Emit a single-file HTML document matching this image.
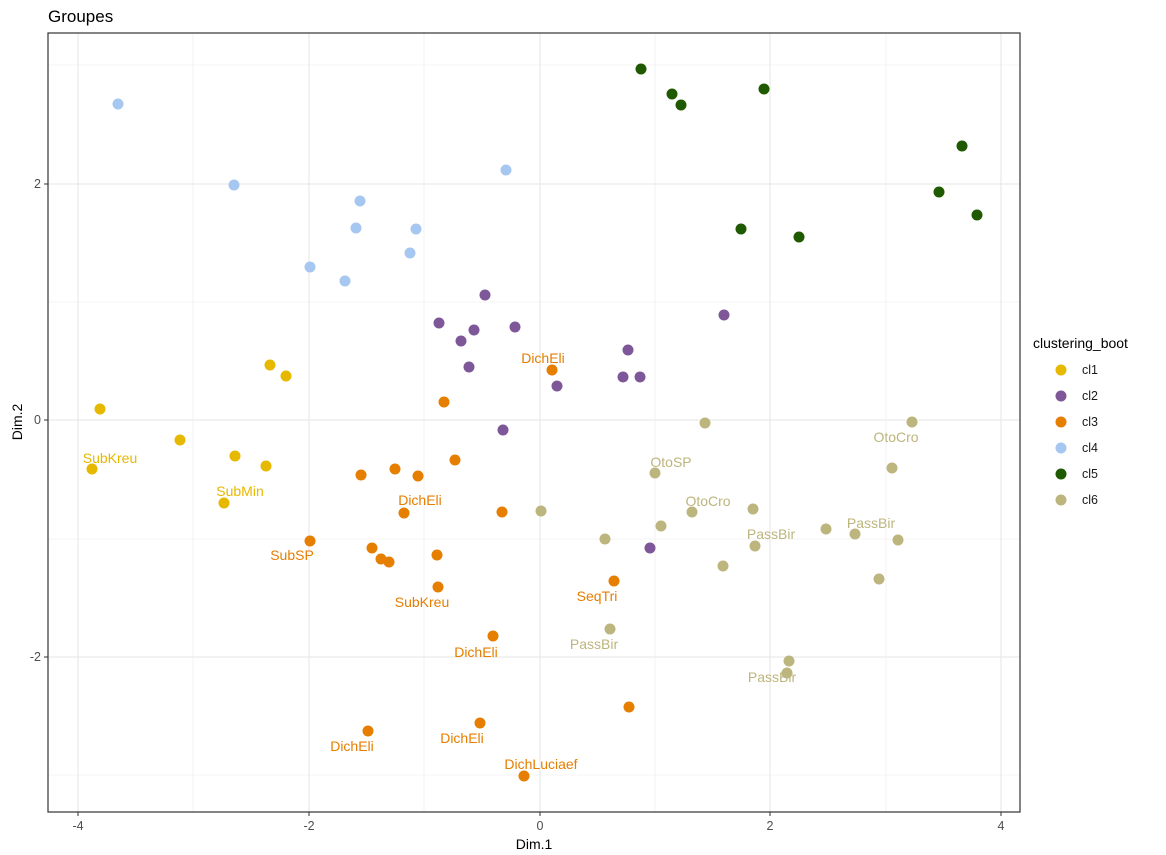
<!DOCTYPE html>
<html><head><meta charset="utf-8"><style>body{margin:0;background:#fff}svg{display:block;font-family:"Liberation Sans",Arial,sans-serif}</style></head><body>
<svg width="1166" height="855" viewBox="0 0 1166 855">
<rect width="1166" height="855" fill="#fff"/>
<g stroke="#f0f0f0" stroke-width="0.8">
<line x1="193" y1="33" x2="193" y2="812"/><line x1="424" y1="33" x2="424" y2="812"/><line x1="655" y1="33" x2="655" y2="812"/><line x1="886" y1="33" x2="886" y2="812"/>
<line x1="48" y1="65" x2="1020" y2="65"/><line x1="48" y1="302" x2="1020" y2="302"/><line x1="48" y1="539" x2="1020" y2="539"/><line x1="48" y1="775" x2="1020" y2="775"/>
</g>
<g stroke="#e6e6e6" stroke-width="1.1">
<line x1="78" y1="33" x2="78" y2="812"/><line x1="309" y1="33" x2="309" y2="812"/><line x1="540" y1="33" x2="540" y2="812"/><line x1="770" y1="33" x2="770" y2="812"/><line x1="1001" y1="33" x2="1001" y2="812"/>
<line x1="48" y1="184" x2="1020" y2="184"/><line x1="48" y1="420" x2="1020" y2="420"/><line x1="48" y1="657" x2="1020" y2="657"/>
</g>
<rect x="48" y="33" width="972" height="779" fill="none" stroke="#333" stroke-width="1.2"/>
<g stroke="#333"><line x1="78" y1="812" x2="78" y2="816"/><line x1="309" y1="812" x2="309" y2="816"/><line x1="540" y1="812" x2="540" y2="816"/><line x1="770" y1="812" x2="770" y2="816"/><line x1="1001" y1="812" x2="1001" y2="816"/>
<line x1="44" y1="184" x2="48" y2="184"/><line x1="44" y1="420" x2="48" y2="420"/><line x1="44" y1="657" x2="48" y2="657"/></g>
<g font-size="12.5" fill="#4d4d4d" text-anchor="middle"><text x="78" y="830">-4</text><text x="309" y="830">-2</text><text x="540" y="830">0</text><text x="770" y="830">2</text><text x="1001" y="830">4</text></g>
<g font-size="12.5" fill="#4d4d4d" text-anchor="end"><text x="41" y="188">2</text><text x="41" y="424">0</text><text x="41" y="661">-2</text></g>
<text x="534" y="849" font-size="14" text-anchor="middle">Dim.1</text>
<text transform="translate(22,422) rotate(-90)" font-size="14" text-anchor="middle">Dim.2</text>
<text x="48" y="22" font-size="17">Groupes</text>
<g fill="#A6C8F0"><circle cx="118" cy="104" r="5.5"/><circle cx="234" cy="185" r="5.5"/><circle cx="506" cy="170" r="5.5"/><circle cx="360" cy="201" r="5.5"/><circle cx="356" cy="228" r="5.5"/><circle cx="416" cy="229" r="5.5"/><circle cx="310" cy="267" r="5.5"/><circle cx="410" cy="253" r="5.5"/><circle cx="345" cy="281" r="5.5"/></g>
<g fill="#1F5A00"><circle cx="641" cy="69" r="5.5"/><circle cx="672" cy="94" r="5.5"/><circle cx="681" cy="105" r="5.5"/><circle cx="764" cy="89" r="5.5"/><circle cx="962" cy="146" r="5.5"/><circle cx="939" cy="192" r="5.5"/><circle cx="977" cy="215" r="5.5"/><circle cx="741" cy="229" r="5.5"/><circle cx="799" cy="237" r="5.5"/></g>
<g fill="#7E5799"><circle cx="485" cy="295" r="5.5"/><circle cx="439" cy="323" r="5.5"/><circle cx="474" cy="330" r="5.5"/><circle cx="515" cy="327" r="5.5"/><circle cx="461" cy="341" r="5.5"/><circle cx="724" cy="315" r="5.5"/><circle cx="628" cy="350" r="5.5"/><circle cx="623" cy="377" r="5.5"/><circle cx="640" cy="377" r="5.5"/><circle cx="557" cy="386" r="5.5"/><circle cx="469" cy="367" r="5.5"/><circle cx="503" cy="430" r="5.5"/><circle cx="650" cy="548" r="5.5"/></g>
<g fill="#E7B800"><circle cx="270" cy="365" r="5.5"/><circle cx="286" cy="376" r="5.5"/><circle cx="100" cy="409" r="5.5"/><circle cx="180" cy="440" r="5.5"/><circle cx="235" cy="456" r="5.5"/><circle cx="266" cy="466" r="5.5"/><circle cx="92" cy="469" r="5.5"/><circle cx="224" cy="503" r="5.5"/></g>
<g fill="#E67E00"><circle cx="552" cy="370" r="5.5"/><circle cx="444" cy="402" r="5.5"/><circle cx="455" cy="460" r="5.5"/><circle cx="361" cy="475" r="5.5"/><circle cx="395" cy="469" r="5.5"/><circle cx="418" cy="476" r="5.5"/><circle cx="404" cy="513" r="5.5"/><circle cx="502" cy="512" r="5.5"/><circle cx="310" cy="541" r="5.5"/><circle cx="372" cy="548" r="5.5"/><circle cx="381" cy="559" r="5.5"/><circle cx="389" cy="562" r="5.5"/><circle cx="437" cy="555" r="5.5"/><circle cx="614" cy="581" r="5.5"/><circle cx="438" cy="587" r="5.5"/><circle cx="493" cy="636" r="5.5"/><circle cx="629" cy="707" r="5.5"/><circle cx="368" cy="731" r="5.5"/><circle cx="480" cy="723" r="5.5"/><circle cx="524" cy="776" r="5.5"/></g>
<g fill="#BDB57E"><circle cx="705" cy="423" r="5.5"/><circle cx="912" cy="422" r="5.5"/><circle cx="655" cy="473" r="5.5"/><circle cx="892" cy="468" r="5.5"/><circle cx="541" cy="511" r="5.5"/><circle cx="661" cy="526" r="5.5"/><circle cx="692" cy="512" r="5.5"/><circle cx="753" cy="509" r="5.5"/><circle cx="826" cy="529" r="5.5"/><circle cx="855" cy="534" r="5.5"/><circle cx="898" cy="540" r="5.5"/><circle cx="605" cy="539" r="5.5"/><circle cx="755" cy="546" r="5.5"/><circle cx="723" cy="566" r="5.5"/><circle cx="879" cy="579" r="5.5"/><circle cx="610" cy="629" r="5.5"/><circle cx="789" cy="661" r="5.5"/><circle cx="787" cy="673" r="5.5"/></g>
<g font-size="14" text-anchor="middle" fill="#E67E00"><text x="543" y="363">DichEli</text><text x="420" y="505">DichEli</text><text x="292" y="560">SubSP</text><text x="422" y="607">SubKreu</text><text x="597" y="601">SeqTri</text><text x="476" y="657">DichEli</text><text x="352" y="751">DichEli</text><text x="462" y="743">DichEli</text><text x="541" y="769">DichLuciaef</text></g>
<g font-size="14" text-anchor="middle" fill="#E7B800"><text x="110" y="463">SubKreu</text><text x="240" y="496">SubMin</text></g>
<g font-size="14" text-anchor="middle" fill="#BDB57E"><text x="671" y="467">OtoSP</text><text x="896" y="442">OtoCro</text><text x="708" y="506">OtoCro</text><text x="771" y="539">PassBir</text><text x="871" y="528">PassBir</text><text x="594" y="649">PassBir</text><text x="772" y="682">PassBir</text></g>
<text x="1033" y="348" font-size="14">clustering_boot</text>
<g font-size="12.5" fill="#1a1a1a"><text x="1082" y="374">cl1</text><text x="1082" y="400">cl2</text><text x="1082" y="426">cl3</text><text x="1082" y="452">cl4</text><text x="1082" y="478">cl5</text><text x="1082" y="504">cl6</text></g>
<circle cx="1061" cy="370" r="5.5" fill="#E7B800"/><circle cx="1061" cy="396" r="5.5" fill="#7E5799"/><circle cx="1061" cy="422" r="5.5" fill="#E67E00"/><circle cx="1061" cy="448" r="5.5" fill="#A6C8F0"/><circle cx="1061" cy="474" r="5.5" fill="#1F5A00"/><circle cx="1061" cy="500" r="5.5" fill="#BDB57E"/>
</svg>
</body></html>
